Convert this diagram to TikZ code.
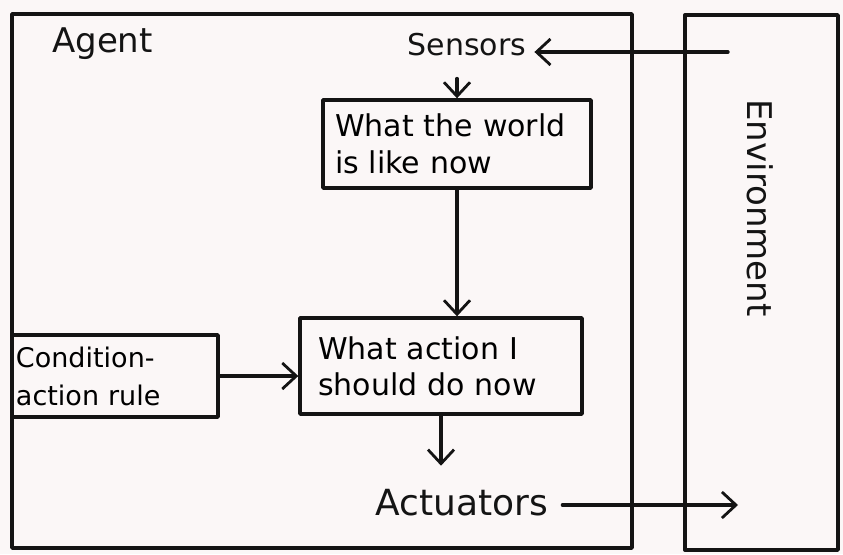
\documentclass[tikz,border=0pt]{standalone}
\usepackage{fontspec}
\setmainfont{DejaVu Sans}
\usetikzlibrary{arrows.meta}
\definecolor{paper}{RGB}{251,247,247}
\definecolor{ink}{RGB}{20,20,20}
\tikzset{
  pen/.style={draw=ink, line width=3.4pt, line join=round, line cap=round},
  boxnode/.style={pen, rectangle, inner sep=0pt, align=left},
  label/.style={text=ink, inner sep=0pt},
  flow/.style={pen, -{Straight Barb[length=14pt, width=26pt, line width=2.8pt]}}
}
\begin{document}
\begin{tikzpicture}[x=1pt, y=-1pt]
  \useasboundingbox (0,0) rectangle (843,554);
  \fill[paper] (0,0) rectangle (843,554);

  % outer frames
  \draw[pen] (12,14) rectangle (632,548);
  \draw[pen] (685,15) rectangle (838,550);

  % labels
  \node[label, font=\fontsize{34}{40}\selectfont, anchor=west] (agent) at (52,44) {Agent};
  \node[label, font=\fontsize{30}{36}\selectfont] (sensors) at (467,45) {Sensors};
  \node[label, font=\fontsize{34}{40}\selectfont, rotate=-90] (env) at (760,208) {Environment};
  \node[label, font=\fontsize{36}{42}\selectfont] (act) at (462,503) {Actuators};

  % inner boxes
  \node[boxnode, font=\fontsize{30}{37}\selectfont, text width=244pt,
        minimum width=268pt, minimum height=88pt] (world) at (457,144)
    {What the world\\is like now};
  \node[boxnode, font=\fontsize{30}{36}\selectfont, text width=246pt,
        minimum width=282pt, minimum height=96pt] (decide) at (441,366)
    {What action I\\should do now};
  \node[boxnode, font=\fontsize{27}{38}\selectfont, text width=198pt,
        minimum width=206pt, minimum height=82pt] (rules) at (115,376)
    {Condition-\\action rule};

  % free ends inside the environment
  \coordinate (envin) at (728,52);
  \coordinate (envout) at (738,505);

  % connectors
  \draw[flow] (envin) -- ([xshift=8pt]sensors.east |- envin);
  \draw[flow] ([yshift=-22pt]sensors.south -| world.north) -- (world.north);
  \draw[flow] (world.south) -- (world.south |- decide.north);
  \draw[flow] (rules.east) -- (rules.east -| decide.west);
  \draw[flow] (decide.south) -- ++(0,50);
  \draw[flow] ([xshift=14pt]act.east |- envout) -- (envout);
\end{tikzpicture}
\end{document}
